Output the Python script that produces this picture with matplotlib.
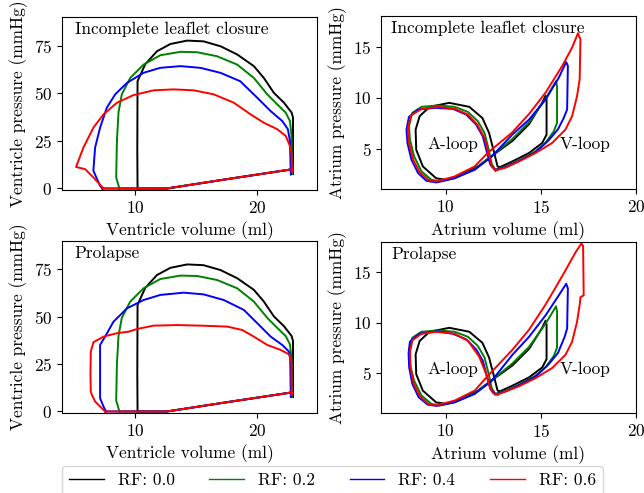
import matplotlib
matplotlib.use("Agg")
import matplotlib.pyplot as plt
from matplotlib.lines import Line2D

plt.rcParams.update({
    "font.family": "serif",
    "font.serif": ["cmr10"],
    "mathtext.fontset": "cm",
    "axes.formatter.use_mathtext": True,
    "font.size": 12.5,
})

### DATA ###
rf_labels = ["RF: 0.0", "RF: 0.2", "RF: 0.4", "RF: 0.6"]
rf_colors = ["black", "green", "blue", "red"]

# ventricle PV loops, RF 0.0 and 0.2 (same in both cases)
lv_vol_00 = [10.19, 12.6, 17.53, 22.88, 22.93, 22.93, 22.82, 22.19, 21.36, 20.54, 19.72, 18.36, 17.0,
             15.6, 14.25, 12.88, 11.78, 10.82, 10.19, 10.17, 10.19]
lv_p_00 = [0, 0, 4.9, 10.1, 7.5, 37.1, 39.8, 45.0, 50.2, 58.0, 64.2, 70.3, 74.6,
           77.2, 77.6, 75.8, 72.0, 65.2, 56.3, 20, 0]
lv_vol_02 = [8.7, 12.6, 17.53, 22.88, 22.85, 22.8, 22.68, 22.33, 21.64, 20.82, 19.72, 18.36, 16.7,
             15.07, 13.7, 12.05, 10.68, 9.59, 8.9, 8.63, 8.5, 8.44, 8.7]
lv_p_02 = [0, 0, 4.9, 10.1, 7.5, 28.4, 35.4, 39.8, 44.1, 49.4, 58.0, 65.0, 69.4,
           71.5, 71.7, 69.9, 65.0, 58.0, 49.4, 40.0, 25.0, 5.8, 0]

# incomplete leaflet closure
lv_vol_ilc_04 = [7.3, 12.6, 17.53, 22.88, 22.75, 22.68, 22.51, 22.05, 21.1, 20.0, 18.6, 16.98, 15.34,
                 13.7, 12.05, 10.68, 9.32, 8.36, 7.67, 7.12, 6.71, 6.57, 7.12, 7.3]
lv_p_ilc_04 = [0, 0, 4.9, 10.1, 7.2, 24.9, 31.1, 35.4, 40.6, 47.6, 56.3, 60.7, 63.3,
               64.2, 63.3, 60.7, 55.4, 49.4, 42.4, 31.9, 21.4, 9.3, 1.4, 0]
lv_vol_ilc_06 = [7.4, 12.6, 17.53, 22.88, 22.85, 22.8, 22.68, 22.33, 21.64, 20.54, 19.45, 18.08, 16.43,
                 14.8, 13.15, 11.5, 9.86, 8.5, 7.4, 6.57, 5.75, 5.15, 5.9, 6.57, 7.4]
lv_p_ilc_06 = [0, 0, 4.9, 10.1, 8.3, 19.0, 22.3, 27.6, 31.1, 34.5, 38.9, 45.0, 49.4,
               51.5, 52.0, 51.5, 49.0, 45.0, 38.9, 31.9, 21.4, 11.3, 10.1, 5.8, 0]

# prolapse
lv_vol_pro_04 = [7.6, 12.6, 17.53, 22.88, 22.75, 22.7, 22.6, 22.05, 21.1, 20.0, 18.9, 17.26, 15.6,
                 13.97, 12.05, 10.68, 9.32, 8.22, 7.53, 7.12, 7.12, 7.4, 7.6]
lv_p_pro_04 = [0, 0, 4.9, 10.1, 7.5, 28.1, 31.6, 35.1, 39.5, 46.6, 53.6, 58.8, 61.8,
               62.7, 61.5, 58.8, 54.4, 47.4, 39.5, 35.1, 7.0, 2.6, 0]
lv_vol_pro_06 = [7.53, 12.6, 17.53, 22.88, 22.82, 22.8, 22.6, 21.91, 20.82, 19.72, 18.77, 17.53, 15.34,
                 13.43, 11.5, 10.14, 9.45, 8.5, 7.4, 6.57, 6.36, 6.33, 6.36, 6.44, 6.71, 7.12, 7.53]
lv_p_pro_06 = [0, 0, 4.9, 10.1, 8.5, 26.3, 30.2, 32.5, 35.1, 39.5, 43.0, 44.8, 45.3,
               45.6, 45.3, 43.5, 42.1, 41.3, 39.5, 36.5, 31.6, 20.0, 10.5, 8.8, 5.3, 2.6, 0]

# atrium PV loops, RF 0.0 and 0.2
la_vol_00 = [12.81, 12.72, 12.55, 12.28, 11.93, 11.24, 10.19, 9.15, 8.63, 8.42, 8.45, 8.8, 9.5, 10.03,
             10.82, 11.69, 12.39, 13.5, 14.38, 15.07, 15.25, 15.3, 15.3, 15.07, 14.38, 13.5, 12.81]
la_p_00 = [3.16, 3.3, 4.58, 6.54, 8.0, 9.1, 9.49, 9.1, 8.18, 6.87, 4.9, 3.26, 2.1, 1.95,
           2.44, 3.26, 4.25, 5.75, 7.4, 9.5, 10.2, 9.8, 6.38, 5.56, 4.58, 3.75, 3.16]
la_vol_02 = [12.6, 12.42, 12.26, 12.04, 11.69, 11.17, 10.47, 9.6, 8.73, 8.24, 8.07, 8.12, 8.34, 8.73,
             9.25, 9.69, 10.47, 11.52, 12.39, 13.5, 14.38, 15.25, 15.8, 15.85, 15.85, 15.68, 15.25,
             14.72, 13.85, 13.16, 12.6]
la_p_02 = [2.95, 3.5, 4.9, 6.54, 7.69, 8.6, 9.1, 9.23, 9.1, 8.5, 7.2, 5.89, 4.25, 2.77,
           1.95, 1.79, 2.11, 3.0, 4.25, 5.95, 7.6, 9.9, 11.62, 11.1, 7.53, 6.7, 5.6,
           4.75, 3.85, 3.25, 2.95]

la_vol_ilc_04 = [12.6, 12.35, 12.18, 11.95, 11.6, 11.08, 10.38, 9.43, 8.55, 8.07, 7.94, 7.99, 8.2,
                 8.55, 8.99, 9.51, 10.47, 11.52, 12.39, 13.5, 14.38, 15.25, 15.94, 16.33, 16.42,
                 16.38, 16.2, 15.9, 15.4, 14.72, 13.85, 13.16, 12.6]
la_p_ilc_04 = [2.9, 3.43, 4.57, 6.21, 7.36, 8.34, 8.9, 9.0, 8.84, 8.11, 6.87, 5.56, 3.92,
               2.61, 1.85, 1.69, 2.11, 2.93, 4.18, 6.38, 7.85, 9.82, 11.95, 13.49, 13.1,
               8.84, 8.0, 6.9, 5.8, 4.65, 3.8, 3.2, 2.9]
la_vol_ilc_06 = [12.63, 12.42, 12.25, 12.04, 11.66, 11.17, 10.47, 9.6, 8.73, 8.17, 8.0, 8.07, 8.29,
                 8.64, 9.08, 9.51, 10.47, 11.52, 12.2, 13.5, 14.38, 15.25, 16.12, 16.64, 16.95, 17.08,
                 17.04, 16.9, 16.64, 16.29, 15.59, 14.72, 13.85, 13.16, 12.63]
la_p_ilc_06 = [2.87, 3.26, 4.57, 6.05, 7.36, 8.34, 8.9, 9.1, 8.9, 8.25, 6.87, 5.56, 3.92,
               2.67, 1.95, 1.79, 2.28, 3.26, 4.58, 6.6, 8.4, 10.5, 13.1, 14.9, 16.31, 15.7,
               11.8, 10.14, 8.18, 6.87, 5.56, 4.58, 3.75, 3.16, 2.87]

la_vol_pro_04 = [12.6, 12.35, 12.18, 11.95, 11.6, 11.08, 10.38, 9.6, 8.6, 8.12, 8.05, 8.08, 8.25,
                 8.58, 9.05, 9.51, 10.47, 11.52, 12.39, 13.5, 14.38, 15.25, 15.94, 16.33, 16.42,
                 16.38, 16.25, 15.9, 15.4, 14.72, 13.85, 13.16, 12.6]
la_p_pro_04 = [2.9, 3.43, 4.57, 6.21, 7.36, 8.34, 8.9, 9.15, 8.9, 8.11, 6.97, 5.56, 3.92,
               2.61, 1.88, 1.75, 2.11, 2.93, 4.18, 6.8, 8.6, 10.73, 12.7, 13.85, 13.4,
               9.42, 8.6, 7.0, 5.85, 4.65, 3.8, 3.2, 2.9]
la_vol_pro_06 = [12.72, 12.5, 12.37, 12.11, 11.76, 11.17, 10.47, 9.5, 8.73, 8.25, 8.13, 8.15, 8.32,
                 8.66, 9.08, 9.51, 10.47, 11.52, 12.2, 13.5, 14.38, 15.25, 16.12, 16.82, 17.13, 17.22,
                 17.25, 17.08, 17.05, 16.9, 16.64, 16.29, 15.59, 14.72, 13.85, 13.16, 12.72]
la_p_pro_06 = [2.87, 3.0, 3.36, 5.0, 6.63, 8.2, 8.9, 9.09, 8.9, 8.25, 7.1, 5.56, 3.92,
               2.67, 1.95, 1.8, 2.28, 3.26, 4.7, 7.3, 9.3, 11.8, 14.6, 16.96, 17.85, 17.6,
               12.7, 12.53, 11.9, 10.07, 8.1, 6.8, 5.5, 4.5, 3.7, 3.19, 2.87]

panels = [
    ("Incomplete leaflet closure",
     [(lv_vol_00, lv_p_00), (lv_vol_02, lv_p_02), (lv_vol_ilc_04, lv_p_ilc_04), (lv_vol_ilc_06, lv_p_ilc_06)],
     [(la_vol_00, la_p_00), (la_vol_02, la_p_02), (la_vol_ilc_04, la_p_ilc_04), (la_vol_ilc_06, la_p_ilc_06)]),
    ("Prolapse",
     [(lv_vol_00, lv_p_00), (lv_vol_02, lv_p_02), (lv_vol_pro_04, lv_p_pro_04), (lv_vol_pro_06, lv_p_pro_06)],
     [(la_vol_00, la_p_00), (la_vol_02, la_p_02), (la_vol_pro_04, la_p_pro_04), (la_vol_pro_06, la_p_pro_06)]),
]

fig = plt.figure(figsize=(6.44, 4.93), dpi=100)

# axes boxes in figure fraction
positions = [
    ([0.0963, 0.6146, 0.396, 0.351], [0.5916, 0.6166, 0.396, 0.351]),
    ([0.0963, 0.1623, 0.396, 0.349], [0.5916, 0.1623, 0.396, 0.347]),
]

for (case, lv_loops, la_loops), (pos_lv, pos_la) in zip(panels, positions):
    ax = fig.add_axes(pos_lv)
    for (v, p), c in zip(lv_loops, rf_colors):
        ax.plot(v, p, color=c, lw=1.4)
    ax.set_xlim(4.0, 24.9)
    ax.set_ylim(-0.8, 90)
    ax.set_xticks([10, 20])
    ax.set_yticks([0, 25, 50, 75])
    ax.set_xlabel("Ventricle volume (ml)")
    ax.set_ylabel("Ventricle pressure (mmHg)")
    ax.text(0.05, 0.975, case, transform=ax.transAxes, va="top", ha="left")

    ax = fig.add_axes(pos_la)
    for (v, p), c in zip(la_loops, rf_colors):
        ax.plot(v, p, color=c, lw=1.4)
    ax.set_xlim(6.6, 20)
    ax.set_ylim(1.05, 18)
    ax.set_xticks([10, 15, 20])
    ax.set_yticks([5, 10, 15])
    ax.set_xlabel("Atrium volume (ml)")
    ax.set_ylabel("Atrium pressure (mmHg)")
    ax.text(0.04, 0.975, case, transform=ax.transAxes, va="top", ha="left")
    ax.text(9.05, 5.4, "A-loop", va="center", ha="left")
    ax.text(16.0, 5.4, "V-loop", va="center", ha="left")

handles = [Line2D([], [], color=c, lw=1) for c in rf_colors]
fig.legend(handles, rf_labels, loc="upper center", bbox_to_anchor=(0.516, 0.072), ncol=4)

fig.savefig("out.png", dpi=100)
